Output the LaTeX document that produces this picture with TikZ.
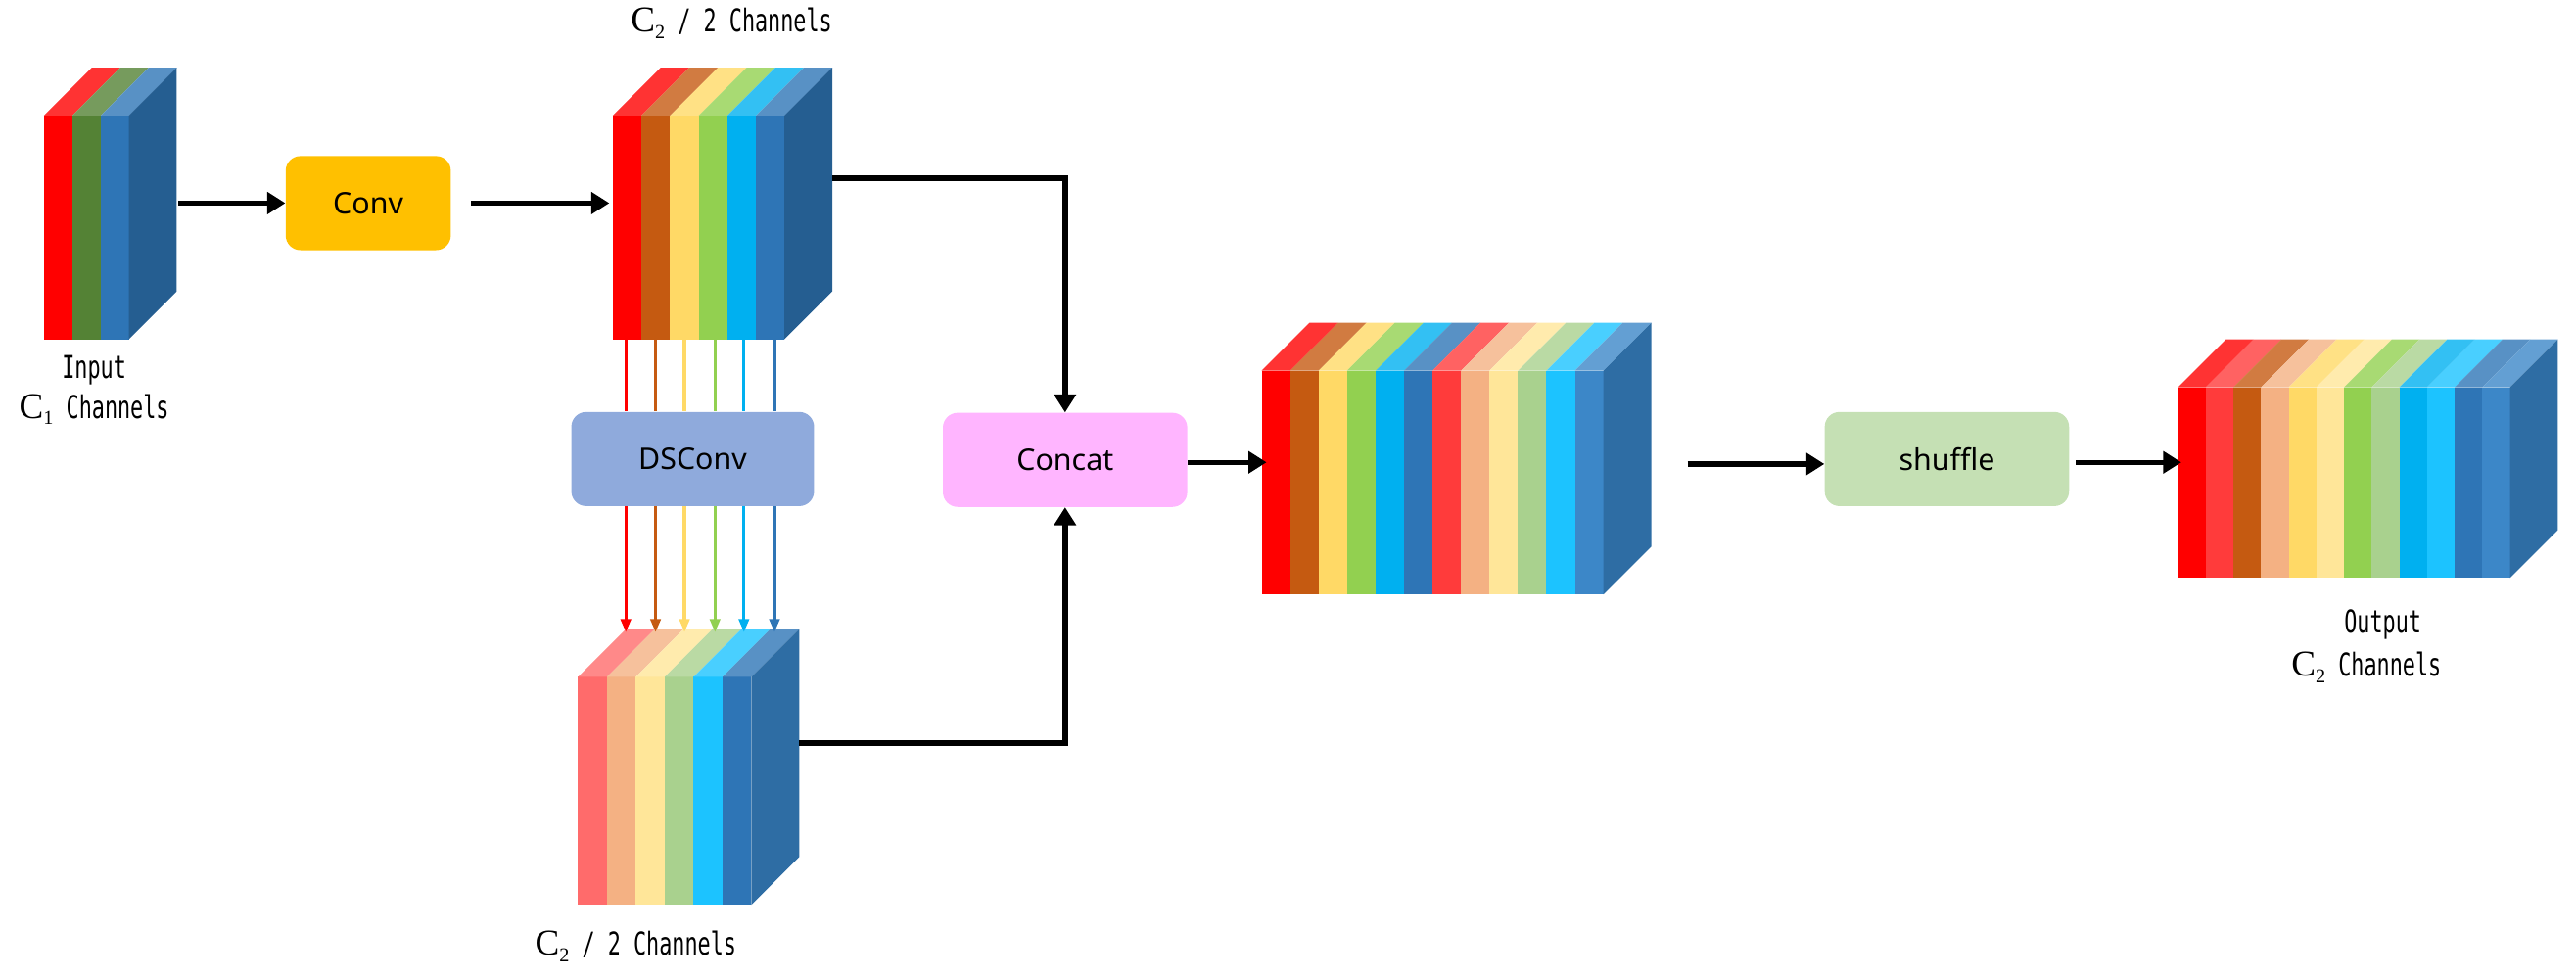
\documentclass[tikz,border=0pt]{standalone}
\usepackage{fontspec}
\setmainfont{Noto Sans}
\newfontfamily\lab[FakeStretch=0.68]{DejaVu Sans Mono}
\newfontfamily\serifC{Liberation Serif}
\usetikzlibrary{arrows.meta}
\definecolor{cR}{HTML}{FF0000}\definecolor{cBr}{HTML}{C55A11}\definecolor{cY}{HTML}{FFD966}
\definecolor{cG}{HTML}{92D050}\definecolor{cCy}{HTML}{00B0F0}\definecolor{cBl}{HTML}{2E75B6}
\definecolor{cLR}{HTML}{FF3B3B}\definecolor{cPR}{HTML}{FF6B6B}\definecolor{cPe}{HTML}{F4B183}
\definecolor{cLY}{HTML}{FFE699}\definecolor{cLG}{HTML}{A9D18E}\definecolor{cLC}{HTML}{1CC3FF}
\definecolor{cLB}{HTML}{3C87C8}\definecolor{cDG}{HTML}{548235}
\definecolor{sideA}{HTML}{255E91}\definecolor{sideB}{HTML}{2E6DA4}
\newcommand{\blk}[7]{% x ytop stripew ybot colors xend side
  \foreach \c [count=\i] in {#5}{
    \fill[\c] ({#1+(\i-1)*#3},#2) rectangle ++(#3,{#4-#2});
    \fill[\c!80!white] ({#1+(\i-1)*#3},#2) -- ++(29,-29) -- ++(#3,0) -- ++(-29,29) -- cycle;}
  \fill[#7] (#6,#2) -- ++(29,-29) -- ++(0,{#4-#2}) -- (#6,#4) -- cycle;}
\newcommand{\Cs}[1]{{\serifC\fontsize{22}{22}\selectfont C}\raisebox{-4pt}{\serifC\fontsize{12}{12}\selectfont #1}}
\tikzset{
  box/.style={rounded corners=9pt,minimum height=57pt,font=\fontsize{18}{20}\selectfont,inner sep=0pt},
  big/.style={line width=3.2pt,-{Triangle[length=11pt,width=13pt]}},
  thin/.style={line width=2pt,-{Triangle[length=8pt,width=6pt]}},
  txt/.style={font=\lab\fontsize{19}{21}\selectfont,inner sep=0pt}
}
\begin{document}
\begin{tikzpicture}[x=1pt,y=-1pt]
\useasboundingbox (0,0) rectangle (1560,592.3);
% blocks
\blk{26.5}{70}{17.2}{205.5}{cR,cDG,cBl}{78}{sideA}
\blk{371}{70}{17.35}{205.5}{cR,cBr,cY,cG,cCy,cBl}{475}{sideA}
\blk{350}{410}{17.5}{548}{cPR,cPe,cLY,cLG,cLC,cBl}{455}{sideB}
\blk{764}{224.5}{17.25}{360}{cR,cBr,cY,cG,cCy,cBl,cLR,cPe,cLY,cLG,cLC,cLB}{971}{sideB}
\blk{1319}{234.5}{16.75}{350}{cR,cLR,cBr,cPe,cY,cLY,cG,cLG,cCy,cLC,cBl,cLB}{1520}{sideB}
% coordinates on blocks
\coordinate (inR) at (108,123);
\coordinate (b2L) at (369,123);
\coordinate (b2R) at (504,108);
\coordinate (b3R) at (484,450);
\coordinate (b4L) at (767,280);
\coordinate (b4R) at (1022,281);
\coordinate (b5L) at (1321,280);
% boxes
\node[box,fill={rgb,255:red,255;green,192;blue,0},minimum width=100pt] (conv) at (223,123) {Conv};
\node[box,fill={rgb,255:red,143;green,170;blue,220},minimum width=147pt] (ds) at (419.5,278) {DSConv};
\node[box,fill={rgb,255:red,255;green,181;blue,255},minimum width=148pt] (cat) at (645,278.5) {Concat};
\node[box,fill={rgb,255:red,197;green,224;blue,180},minimum width=148pt] (sh) at (1179,278) {shuffle};
% arrows
\draw[big] (inR) -- (inR -| conv.west);
\coordinate (ce) at ([xshift=12pt]conv.east);
\draw[big] (ce) -- (b2L);
\draw[big] (b2R) -| (cat.north);
\draw[big] (b3R) -| (cat.south);
\draw[big] (cat.east |- b4L) -- (b4L);
\draw[big] (b4R) -- (b4R -| sh.west);
\draw[big] ([xshift=4pt]sh.east |- b5L) -- (b5L);
% colored lines
\foreach \xx/\c [count=\k] in {379/cR,397/cBr,414.5/cY,433/cG,450.5/cCy,469/cBl}{
  \coordinate (t\k) at (\xx,205.5);
  \draw[\c,line width=2pt] (t\k) -- (ds.north -| t\k);
  \coordinate (e\k) at (\xx,383);
  \draw[\c,thin] (ds.south -| t\k) -- (e\k);
}
% texts
\node[txt] (t1) at (57,224) {Input};
\node[txt] (t2) at (57,248) {\Cs{1} Channels};
\node[txt] (t3) at (443,14) {\Cs{2} / 2 Channels};
\node[txt] (t4) at (385,573) {\Cs{2} / 2 Channels};
\node[txt] (t5) at (1443,378) {Output};
\node[txt] (t6) at (1433,404) {\Cs{2} Channels};
\end{tikzpicture}
\end{document}
